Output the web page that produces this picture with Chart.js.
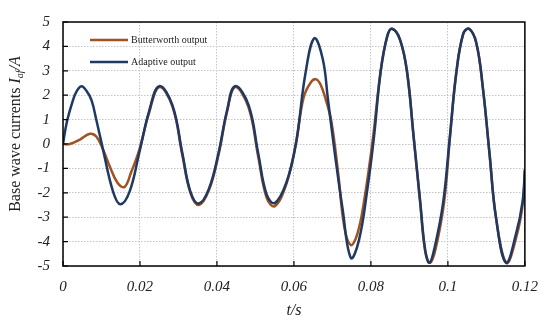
<!DOCTYPE html>
<html>
<head>
<meta charset="utf-8">
<script src="https://cdn.jsdelivr.net/npm/chart.js@4/dist/chart.umd.min.js"></script>
<style>
  html, body { margin: 0; padding: 0; background: #fff; }
  #wrap { width: 550px; height: 325px; }
</style>
</head>
<body>
<div id="wrap"><canvas id="myChart" width="550" height="325"></canvas></div>
<script>
// butterworth filter output
const butterT = [0, 0.0018, 0.0044, 0.007, 0.0087, 0.0104, 0.0121, 0.0142, 0.016, 0.0177, 0.0198,
  0.0224, 0.025, 0.0284, 0.031, 0.0331, 0.0353, 0.0379, 0.0404, 0.0426, 0.0447, 0.0482, 0.0507,
  0.0529, 0.055, 0.058, 0.0605, 0.0625, 0.0645, 0.0658, 0.067, 0.0684, 0.0697, 0.0715, 0.0731,
  0.0748, 0.0765, 0.0782, 0.0805, 0.0825, 0.0842, 0.0855, 0.0876, 0.0894, 0.0911, 0.0928, 0.0941,
  0.0954, 0.0968, 0.099, 0.1005, 0.1022, 0.104, 0.1055, 0.1074, 0.1091, 0.1108, 0.1125, 0.1152,
  0.1178, 0.1195, 0.12];
const butterI = [0, 0, 0.18, 0.42, 0.3, -0.23, -0.9, -1.6, -1.76, -1.16, -0.25,
  1.3, 2.33, 1.55, -0.45, -2.0, -2.5, -1.9, -0.45, 1.3, 2.33, 1.5, -0.5,
  -2.2, -2.55, -1.65, 0.0, 1.9, 2.55, 2.65, 2.41, 1.75, 0.95, -1.2, -3.41,
  -4.14, -3.67, -2.36, 0.2, 2.94, 4.39, 4.72, 4.26, 2.94, 0.29, -2.4, -4.4,
  -4.87, -4.3, -2.4, 0.2, 2.94, 4.52, 4.72, 4.13, 2.28, -0.37, -3.02, -4.87,
  -3.8, -2.4, -1.1];

// adaptive filter output
const adaptT = [0, 0.001, 0.0025, 0.0035, 0.0048, 0.006, 0.0074, 0.0087, 0.0104, 0.013, 0.0149,
  0.0173, 0.0198, 0.0224, 0.025, 0.0284, 0.031, 0.0331, 0.0353, 0.0379, 0.0404, 0.0426, 0.0447,
  0.0482, 0.0507, 0.0529, 0.055, 0.058, 0.0605, 0.063, 0.0653, 0.0675, 0.0688, 0.0705, 0.0726,
  0.0748, 0.0769, 0.0791, 0.0808, 0.0825, 0.0842, 0.0855, 0.0876, 0.0894, 0.0911, 0.0928, 0.0941,
  0.0952, 0.0966, 0.0988, 0.1005, 0.1022, 0.104, 0.1055, 0.1074, 0.1091, 0.1108, 0.1125, 0.1151,
  0.1177, 0.1194, 0.12];
const adaptI = [0, 0.9, 1.75, 2.15, 2.37, 2.2, 1.8, 0.96, -0.23, -1.95, -2.47,
  -1.95, -0.37, 1.36, 2.37, 1.6, -0.37, -1.95, -2.44, -1.84, -0.37, 1.36, 2.37,
  1.6, -0.37, -2.07, -2.42, -1.6, 0.0, 2.9, 4.33, 3.47, 1.88, -0.24, -2.62,
  -4.67, -3.94, -1.83, 0.29, 2.94, 4.39, 4.72, 4.26, 2.94, 0.29, -2.36, -4.34,
  -4.87, -4.21, -2.36, 0.29, 2.94, 4.52, 4.72, 4.13, 2.28, -0.37, -3.02, -4.87,
  -3.68, -2.36, -1.03];

const seriesNames = ['Butterworth output', 'Adaptive output'];
const xTicks = [0, 0.02, 0.04, 0.06, 0.08, 0.1, 0.12];
const yTicks = [-5, -4, -3, -2, -1, 0, 1, 2, 3, 4, 5];

const orange = '#a0521f';
const navy = '#1f3864';
const serif = "'Liberation Serif', 'DejaVu Serif', serif";

const toPts = (ts, vs) => ts.map((t, i) => ({ x: t, y: vs[i] }));

// frame, inward ticks, legend, axis titles
const extras = {
  id: 'extras',
  afterDraw(chart) {
    const c = chart.ctx;
    const a = chart.chartArea;
    const xs = chart.scales.x, ys = chart.scales.y;
    c.save();
    c.strokeStyle = '#000';
    c.lineWidth = 1.5;
    c.strokeRect(a.left, a.top, a.right - a.left, a.bottom - a.top);
    c.lineWidth = 1.2;
    c.beginPath();
    for (const v of xTicks) {
      const px = xs.getPixelForValue(v);
      c.moveTo(px, a.bottom); c.lineTo(px, a.bottom - 5);
    }
    for (const v of yTicks) {
      const py = ys.getPixelForValue(v);
      c.moveTo(a.left, py); c.lineTo(a.left + 5, py);
    }
    c.stroke();

    // legend
    const cols = [orange, navy];
    c.font = '10px ' + serif;
    c.textBaseline = 'middle';
    seriesNames.forEach((n, i) => {
      const y = a.top + 18 + i * 22;
      c.strokeStyle = cols[i];
      c.lineWidth = 2.5;
      c.beginPath(); c.moveTo(a.left + 27, y); c.lineTo(a.left + 65, y); c.stroke();
      c.fillStyle = '#222';
      c.textAlign = 'left';
      c.fillText(n, a.left + 68, y);
    });

    // x title
    c.fillStyle = '#222';
    c.font = 'italic 16px ' + serif;
    c.textAlign = 'center';
    c.textBaseline = 'middle';
    c.fillText('t/s', (a.left + a.right) / 2, 311);

    // y title with subscript
    c.translate(16, 134);
    c.rotate(-Math.PI / 2);
    const parts = [
      { t: 'Base wave currents ', f: '16px ' + serif, dy: 0 },
      { t: 'I', f: 'italic 16px ' + serif, dy: 0 },
      { t: 'af', f: 'italic 10px ' + serif, dy: 4 },
      { t: '/A', f: 'italic 16px ' + serif, dy: 0 }
    ];
    let w = 0;
    parts.forEach(p => { c.font = p.f; w += c.measureText(p.t).width; });
    let x = -w / 2;
    c.textAlign = 'left';
    parts.forEach(p => {
      c.font = p.f;
      c.fillText(p.t, x, p.dy);
      x += c.measureText(p.t).width;
    });
    c.restore();
  }
};

const ctx = document.getElementById('myChart').getContext('2d');
new Chart(ctx, {
  type: 'line',
  data: {
    datasets: [
      {
        label: seriesNames[0],
        data: toPts(butterT, butterI),
        borderColor: orange,
        borderWidth: 2.5,
        pointRadius: 0,
        tension: 0.4,
        fill: false,
        order: 1
      },
      {
        label: seriesNames[1],
        data: toPts(adaptT, adaptI),
        borderColor: navy,
        borderWidth: 2.5,
        pointRadius: 0,
        tension: 0.4,
        fill: false,
        order: 0
      }
    ]
  },
  options: {
    responsive: false,
    animation: false,
    layout: { padding: { top: 15, right: 21, left: 0, bottom: 0 } },
    plugins: { legend: { display: false }, tooltip: { enabled: false } },
    scales: {
      x: {
        type: 'linear',
        min: 0, max: 0.12,
        afterFit: s => { s.height = 59; },
        afterBuildTicks: s => { s.ticks = xTicks.map(v => ({ value: v })); },
        grid: { color: '#c4c4c4', lineWidth: 1, drawTicks: false },
        border: { display: false, dash: [1.5, 1.5] },
        ticks: {
          padding: 12,
          color: '#222',
          font: { family: serif, size: 15, style: 'italic' },
          maxRotation: 0,
          callback: v => String(Number(v.toFixed(2)))
        }
      },
      y: {
        min: -5, max: 5,
        afterFit: s => { s.width = 63; },
        afterBuildTicks: s => { s.ticks = yTicks.map(v => ({ value: v })); },
        grid: { color: '#c4c4c4', lineWidth: 1, drawTicks: false },
        border: { display: false, dash: [1.5, 1.5] },
        ticks: {
          padding: 13,
          color: '#222',
          font: { family: serif, size: 15, style: 'italic' },
          callback: v => String(v)
        }
      }
    }
  },
  plugins: [extras]
});
</script>
</body>
</html>
